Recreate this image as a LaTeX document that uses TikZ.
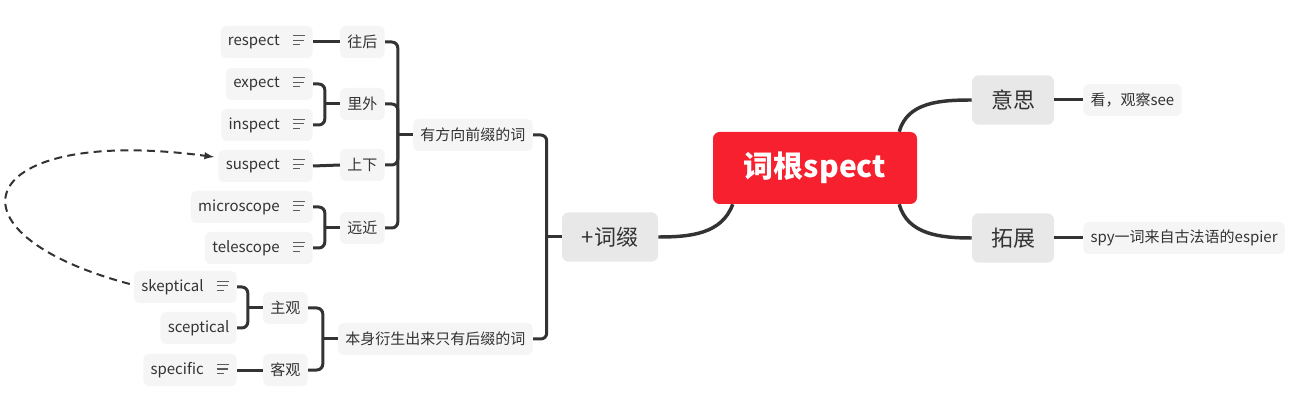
\documentclass[tikz,border=0pt]{standalone}
\usepackage{fontspec}
\setmainfont{Noto Sans CJK SC}
\usetikzlibrary{%
arrows,
calc,
positioning
}
\definecolor{rootred}{HTML}{F7202F}
\definecolor{linkgray}{HTML}{333333}
\definecolor{maingray}{HTML}{E8E8E8}
\definecolor{subgray}{HTML}{F5F5F5}
\definecolor{textgray}{HTML}{333333}
\tikzset{
  rootbox/.style={fill=rootred, text=white, rounded corners=5pt,
    minimum width=153pt, minimum height=54pt,
    font=\bfseries\fontsize{22.5}{26}\selectfont},
  mainbox/.style={fill=maingray, text=textgray, rounded corners=5pt,
    minimum width=61.5pt, minimum height=37pt,
    font=\fontsize{16.5}{19}\selectfont},
  subbox/.style={fill=subgray, text=textgray, rounded corners=4pt,
    minimum height=24pt, inner xsep=5.5pt, inner ysep=0pt,
    font=\fontsize{11.25}{13}\selectfont},
  link/.style={draw=linkgray, line width=2.25pt, rounded corners=4.5pt},
  memoline/.style={draw=textgray!80, line width=0.8pt}
}
% the little note sign behind a word
\newcommand\memo{\hspace{9.5pt}\tikz[baseline=0.5pt]{%
  \draw[memoline] (0pt,8pt) -- (9pt,8pt) (0pt,4.5pt) -- (8pt,4.5pt) (0pt,1pt) -- (5.5pt,1pt);}}

\begin{document}
\begin{tikzpicture}[x=0.75pt,y=-0.75pt]
    \fill[white] (0,0) rectangle (1314,420);
    \useasboundingbox (0,0) rectangle (1314,420);
    % centre and first level
    \node[rootbox] (root) at (815,168) {词根spect};
    \node[mainbox] (meaning) at (1013,100) {意思};
    \node[mainbox] (extend) at (1013,238) {拓展};
    \node[mainbox, minimum width=72pt] (affix) at (610,237) {+词缀};
    \node[subbox, anchor=west] (see) at (1083,100) {看，观察see};
    \node[subbox, anchor=west] (spy) at (1083,238) {spy一词来自古法语的espier};
    % second and third level
    \node[subbox, anchor=east] (prefix) at (533,135) {有方向前缀的词};
    \node[subbox, anchor=east] (suffix) at (533,339) {本身衍生出来只有后缀的词};
    \foreach \nm/\txt/\y in {back/往后/42, inout/里外/104, updown/上下/165, near/远近/228}
        \node[subbox, anchor=east] (\nm) at (385,\y) {\txt};
    \node[subbox, anchor=east] (subj) at (308,308) {主观};
    \node[subbox, anchor=east] (obj) at (308,370) {客观};
    % words
    \foreach \nm/\y in {respect/42, expect/84, inspect/125, suspect/166, microscope/207, telescope/248}
        \node[subbox, anchor=east] (\nm) at (313,\y) {\nm\memo};
    \node[subbox, anchor=east] (skeptical) at (237,287) {skeptical\memo};
    \node[subbox, anchor=east] (sceptical) at (237,328) {sceptical};
    \node[subbox, anchor=east] (specific) at (237,370) {specific\memo};

    % curved branches out of the centre
    \draw[link, line width=2.6pt] ($(root.north east)+(-18,0)$) to[out=75,in=180] (meaning.west);
    \draw[link, line width=2.6pt] ($(root.south east)+(-18,0)$) to[out=-75,in=180] (extend.west);
    \draw[link, line width=2.6pt] ($(root.south west)+(20,0)$) to[out=250,in=0] (affix.east);

    % straight links
    \foreach \a/\b in {meaning/see, extend/spy}
        \draw[link] (\a.east) -- (\b.west);
    \foreach \a/\b in {back/respect, updown/suspect, obj/specific}
        \draw[link] (\a.west) -- (\b.east);

    % brackets
    \foreach \pa/\kids in {affix/{prefix,suffix}, prefix/{back,inout,updown,near},
            suffix/{subj,obj}, inout/{expect,inspect},
            near/{microscope,telescope}, subj/{skeptical,sceptical}} {
        \coordinate (j) at ($(\pa.west)+(-15,0)$);
        \draw[link] (\pa.west) -- (j);
        \foreach \kid in \kids
            \draw[link] (j) |- (\kid.east);
    }

    % skeptical back to suspect
    \draw[linkgray, line width=1.5pt, dash pattern=on 6pt off 4pt, -latex]
        ($(skeptical.west)+(-4,-3)$) .. controls (-65,232) and (-25,125) .. ($(suspect.west)+(-4,-9)$);
\end{tikzpicture}
\end{document}
